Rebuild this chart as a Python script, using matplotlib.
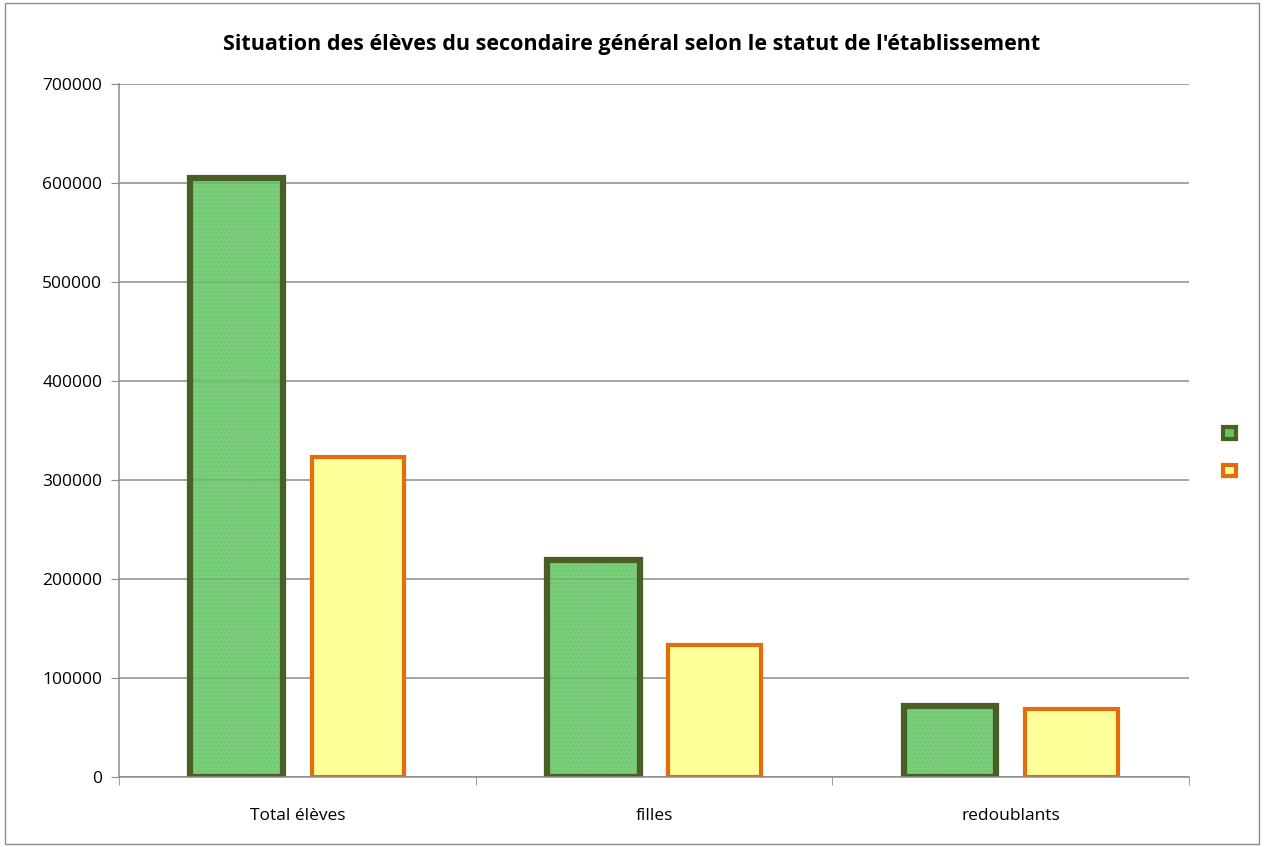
import matplotlib as mpl
import matplotlib.pyplot as plt
import numpy as np
from matplotlib.patches import Patch, Rectangle

mpl.rcParams.update({"font.family": ["Open Sans", "DejaVu Sans"], "hatch.linewidth": 0.6})

categories = ["Total élèves", "filles", "redoublants"]
public_vals = [605000, 219000, 72000]
private_vals = [323000, 133000, 69000]
yticks = [0, 100000, 200000, 300000, 400000, 500000, 600000, 700000]

GREEN_EDGE = "#4a5f26"
GREEN_FILL = "#66c266"
DOT = "#3fd03f"
ORANGE = "#e46c0a"
YELLOW = "#ffff99"
GRID = "#8c8c8c"

fig = plt.figure(figsize=(12.64, 8.47), dpi=100)
ax = fig.add_axes([0.0941, 0.0826, 0.8466, 0.8182])

x = np.arange(len(categories))
w = 0.26
off = 0.17

# green series: semi-transparent dotted fill, thick dark edge
ax.bar(x - off, public_vals, w, color=GREEN_FILL, alpha=0.85, zorder=2, linewidth=0)
ax.bar(x - off, public_vals, w, facecolor="none", edgecolor=DOT, hatch="....",
       linewidth=0, zorder=2, alpha=0.5)
ax.bar(x - off, public_vals, w, facecolor="none", edgecolor=GREEN_EDGE,
       linewidth=4.5, zorder=3)
# yellow series
ax.bar(x + off, private_vals, w, color=YELLOW, edgecolor=ORANGE, linewidth=3,
       zorder=3)

ax.set_xlim(-0.5, len(categories) - 0.5)
ax.set_ylim(0, 700000)
ax.set_yticks(yticks)
ax.set_yticklabels([str(v) for v in yticks], fontsize=12.5)
ax.set_xticks(x)
ax.set_xticklabels(categories, fontsize=12.5)
ax.set_xticks(np.arange(len(categories) + 1) - 0.5, minor=True)
ax.tick_params(axis="x", which="major", length=0, pad=22)
ax.tick_params(axis="x", which="minor", length=6, color=GRID, direction="out")
ax.tick_params(axis="y", length=6, color=GRID, direction="out", pad=6)

ax.grid(axis="y", color=GRID, lw=1.1, zorder=0)
ax.set_axisbelow(True)
for s in ["top", "right"]:
    ax.spines[s].set_visible(False)
for s in ["left", "bottom"]:
    ax.spines[s].set_color(GRID)
    ax.spines[s].set_linewidth(1.1)
    ax.spines[s].set_zorder(4)

fig.text(0.5, 0.947, "Situation des élèves du secondaire général selon le statut de l'établissement",
         ha="center", va="center", fontsize=15.5, fontweight="bold")

handles = [Patch(facecolor=GREEN_FILL, edgecolor=GREEN_EDGE, linewidth=3),
           Patch(facecolor=YELLOW, edgecolor=ORANGE, linewidth=3)]
fig.legend(handles=handles, labels=[" ", " "], loc="center left",
           bbox_to_anchor=(0.958, 0.465), frameon=False, handlelength=0.9,
           handleheight=0.9, labelspacing=1.6, handletextpad=0.2)

# chart frame
fig.patches.append(Rectangle((0.004, 0.003), 0.992, 0.994, transform=fig.transFigure,
                             fill=False, edgecolor="#8c8c8c", linewidth=1))

fig.savefig("out.png", dpi=100, facecolor="white")
